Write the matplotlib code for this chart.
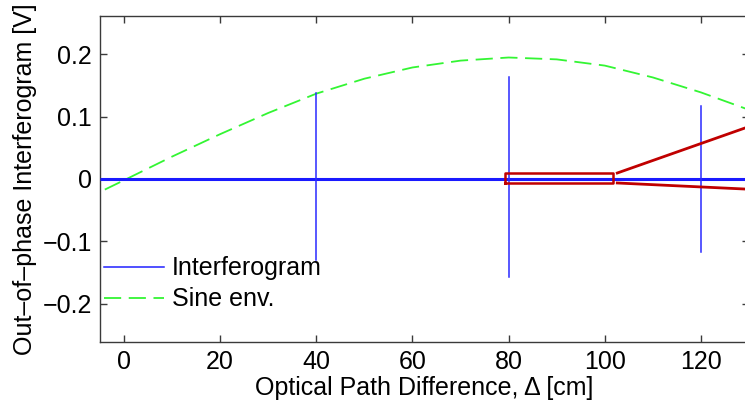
import matplotlib
matplotlib.use("Agg")
import matplotlib.pyplot as plt

plt.rcParams['font.family'] = ['Liberation Sans', 'DejaVu Sans']

# Sine envelope samples (optical path difference in cm, amplitude in V)
env_x = [-4, 0, 10, 20, 30, 40, 50, 60, 70, 80, 90, 100, 110, 120, 130]
env_y = [-0.017, -0.002, 0.036, 0.072, 0.106, 0.137, 0.161, 0.179, 0.190, 0.195,
         0.192, 0.182, 0.163, 0.139, 0.111]

# Interferogram: flat baseline with bursts at the fringe positions
burst_x = [40, 80, 120]
burst_max = [0.138, 0.164, 0.117]
burst_min = [-0.130, -0.157, -0.117]
base_x = [-5, 130]
base_y = [0.0, 0.0]

# Zoom region marked on the trace
zoom_x = [79.2, 101.8]
zoom_y = [-0.0064, 0.0096]

xticks = [0, 20, 40, 60, 80, 100, 120]
yticks = [-0.2, -0.1, 0, 0.1, 0.2]
ytick_labels = ['\u22120.2', '\u22120.1', '0', '0.1', '0.2']

FS = 18

fig = plt.figure(figsize=(7.45, 4.05), dpi=100)
ax = fig.add_axes([100 / 745, 63 / 405, 649 / 745, 326 / 405])

# interferogram trace
ax.plot(base_x, base_y, color='#1a1aff', lw=2.2, solid_capstyle='butt', zorder=3)
for bx, bmax, bmin in zip(burst_x, burst_max, burst_min):
    ax.plot([bx, bx], [bmin, bmax], color='#2a2aff', lw=1.1, zorder=3)
ax.plot([], [], color='#2020ff', lw=1.1, label='Interferogram')

ax.plot(env_x, env_y, color='#33f533', lw=1.3, dashes=(9.5, 4.2), label='Sine env.', zorder=2)

# zoom box and connector lines
rx0, rx1 = zoom_x
ry0, ry1 = zoom_y
ax.plot([rx0, rx1, rx1, rx0, rx0], [ry0, ry0, ry1, ry1, ry0], color='#c00000', lw=1.8, zorder=4)
ax.plot([102.6, 135], [ry1, ry1 + 0.00272 * 32.4], color='#c00000', lw=2.0,
        clip_on=False, zorder=4)
ax.plot([102.6, 135], [ry0, ry0 - 0.000365 * 32.4], color='#c00000', lw=2.0,
        clip_on=False, zorder=4)

ax.set_xlim(-5, 130)
ax.set_ylim(-0.2616, 0.2616)
ax.set_xticks(xticks)
ax.set_xticklabels([str(t) for t in xticks])
ax.set_yticks(yticks)
ax.set_yticklabels(ytick_labels)

for s in ax.spines.values():
    s.set_color('#3a3a3a')
    s.set_linewidth(1.0)
ax.tick_params(direction='in', length=5, width=1, color='#3a3a3a',
               top=True, right=True, labelsize=FS, pad=6)

ax.set_xlabel('Optical Path Difference, \u0394 [cm]', fontsize=FS, labelpad=1)
ax.set_ylabel('Out\u2013of\u2013phase Interferogram [V]', fontsize=FS, labelpad=4)

ax.legend(loc='lower left', bbox_to_anchor=(-0.017, 0.048), frameon=False, fontsize=FS,
          handlelength=2.4, handletextpad=0.32, labelspacing=0.28, borderaxespad=0.2)

fig.savefig('out.png', dpi=100)
